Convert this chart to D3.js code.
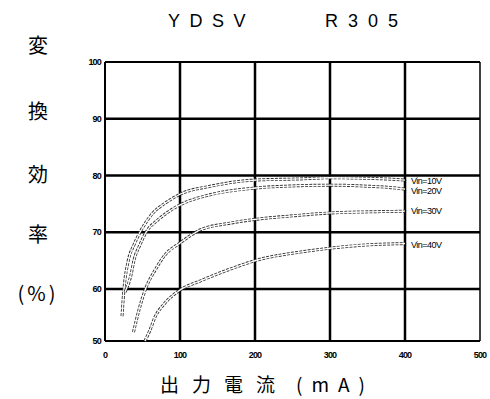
<!DOCTYPE html>
<html><head><meta charset="utf-8">
<script src="https://cdn.jsdelivr.net/npm/d3@7"></script>
<style>
html,body{margin:0;padding:0;background:#fff;}
svg{display:block;}
</style></head>
<body>
<svg id="chart" width="490" height="399"></svg>
<script>
const title1 = "YDSV";
const title2 = "R305";
const yLabelChars = ["変", "換", "効", "率", "(%)"];
const xLabel1 = "出力電流";
const xLabel2 = "(mA)";
const xTicks = [0, 100, 200, 300, 400, 500];
const yTicks = [50, 60, 70, 80, 90, 100];
const seriesNames = ["Vin=10V", "Vin=20V", "Vin=30V", "Vin=40V"];
const vin10 = [[22.7,54.8],[25.3,60],[30.7,64.8],[38.7,67.8],[46.7,70.0],[64,73.4],[80,75.1],[100,76.7],[140,78.1],[200,79.2],[260,79.4],[300,79.6],[353,79.5],[400,79.2]];
const vin20 = [[26.7,59.4],[34.7,62.5],[38.7,65.1],[46.7,67.8],[54.7,70.0],[70.7,72.2],[86.7,73.8],[102.7,75.0],[140,76.6],[201,77.8],[260,78.2],[300,78.3],[353,78.1],[387,77.8],[400,77.6]];
const vin30 = [[38,51.7],[45.3,56.0],[54,60],[66.7,63.3],[80,66.0],[100,68.1],[126.7,70.4],[166.7,71.6],[202.7,72.3],[260,73.0],[301,73.4],[353,73.6],[400,73.7]];
const vin40 = [[53.3,50.0],[60,52.1],[66.7,54.6],[80,57.3],[100,59.8],[126.7,61.4],[166.7,63.5],[202.7,65.1],[260,66.5],[301,67.2],[353,67.8],[400,68.0]];
const seriesData = [vin10, vin20, vin30, vin40];

const svg = d3.select("#chart");
const x = d3.scaleLinear().domain([0, 500]).range([105, 480]);
const y = d3.scaleLinear().domain([50, 60, 100]).range([341, 289, 62]);

// title
svg.append("text").attr("x", 168).attr("y", 27).text(title1)
  .attr("font-family", "Liberation Sans, Arial, sans-serif").attr("font-size", 18)
  .attr("letter-spacing", 9.5).attr("fill", "#000");
svg.append("text").attr("x", 325).attr("y", 27).text(title2)
  .attr("font-family", "Liberation Sans, Arial, sans-serif").attr("font-size", 18)
  .attr("letter-spacing", 10).attr("fill", "#000");

// y label (vertical chars)
const yCenters = [44, 110, 173, 233, 292];
yLabelChars.forEach((c, i) => {
  svg.append("text").attr("x", 38).attr("y", yCenters[i]).text(c)
    .attr("text-anchor", "middle").attr("dominant-baseline", "central")
    .attr("font-family", "Noto Sans CJK JP, sans-serif").attr("font-size", 20)
    .attr("letter-spacing", i === 4 ? 3 : 0)
    .attr("fill", "#000");
});

// x label
svg.append("text").attr("x", 160).attr("y", 392).text(xLabel1)
  .attr("font-family", "Noto Sans CJK JP, sans-serif").attr("font-size", 19)
  .attr("letter-spacing", 13).attr("fill", "#000");
svg.append("text").attr("x", 296).attr("y", 392).text(xLabel2)
  .attr("font-family", "Noto Sans CJK JP, sans-serif").attr("font-size", 19)
  .attr("letter-spacing", 9).attr("fill", "#000");

// gridlines
const g = svg.append("g");
g.selectAll("line.vx").data(xTicks.slice(1, 5)).enter().append("line")
  .attr("x1", d => x(d)).attr("x2", d => x(d)).attr("y1", y(100)).attr("y2", y(50))
  .attr("stroke", "#000").attr("stroke-width", 2.5);
g.selectAll("line.hy").data(yTicks.slice(1, 5)).enter().append("line")
  .attr("x1", x(0)).attr("x2", x(500)).attr("y1", d => y(d)).attr("y2", d => y(d))
  .attr("stroke", "#000").attr("stroke-width", 2.5);
// border
g.append("line").attr("x1", x(0)).attr("x2", x(0)).attr("y1", y(100)).attr("y2", y(50)).attr("stroke", "#000").attr("stroke-width", 2);
g.append("line").attr("x1", x(0)).attr("x2", x(500)).attr("y1", y(50)).attr("y2", y(50)).attr("stroke", "#000").attr("stroke-width", 2);
g.append("line").attr("x1", x(0)).attr("x2", x(500)).attr("y1", y(100)).attr("y2", y(100)).attr("stroke", "#000").attr("stroke-width", 1.8);
g.append("line").attr("x1", x(500)).attr("x2", x(500)).attr("y1", y(100)).attr("y2", y(50)).attr("stroke", "#000").attr("stroke-width", 1.5);

// tick labels
const tickFont = "Liberation Sans, Arial, sans-serif";
svg.selectAll("text.yt").data(yTicks).enter().append("text")
  .attr("x", 101).attr("y", d => y(d)).attr("dy", "0.35em").text(d => d)
  .attr("text-anchor", "end").attr("font-family", tickFont).attr("font-size", 9)
  .attr("font-weight", "bold").attr("letter-spacing", -0.8).attr("fill", "#000");
svg.selectAll("text.xt").data(xTicks).enter().append("text")
  .attr("x", d => x(d)).attr("y", 358).text(d => d)
  .attr("text-anchor", "middle").attr("font-family", tickFont).attr("font-size", 9)
  .attr("font-weight", "bold").attr("letter-spacing", -0.8).attr("fill", "#000");

// curves
const line = d3.line().x(d => x(d[0])).y(d => y(d[1])).curve(d3.curveMonotoneX);
seriesData.forEach(s => {
  svg.append("path").attr("d", line(s)).attr("fill", "none")
    .attr("stroke", "#333").attr("stroke-width", 3).attr("stroke-dasharray", "3,1.2");
  svg.append("path").attr("d", line(s)).attr("fill", "none")
    .attr("stroke", "#fff").attr("stroke-width", 1.3);
});

// series labels
const labelOffsets = [1, 2, 0, 1];
seriesNames.forEach((n, i) => {
  const last = seriesData[i][seriesData[i].length - 1];
  svg.append("text").attr("x", 411).attr("y", y(last[1]) + labelOffsets[i]).attr("dy", "0.35em")
    .text(n).attr("font-family", tickFont).attr("font-size", 9)
    .attr("letter-spacing", -0.5).attr("fill", "#000");
  svg.append("text").attr("x", 404).attr("y", y(last[1]) + labelOffsets[i]).attr("dy", "0.35em")
    .text("‹").attr("font-family", tickFont).attr("font-size", 8).attr("fill", "#000");
});
</script>
</body></html>
